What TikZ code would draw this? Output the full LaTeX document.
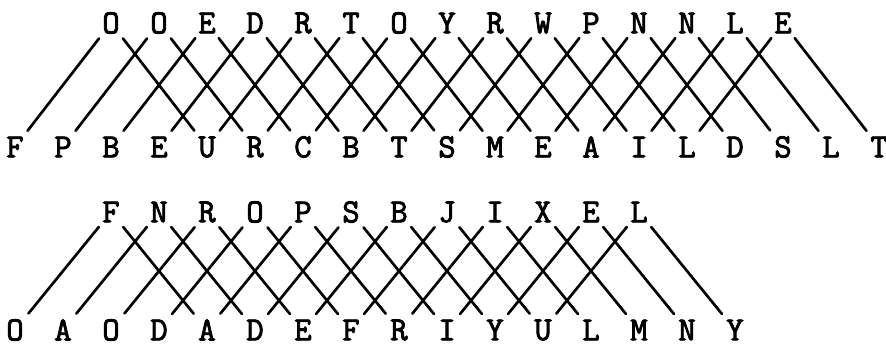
\documentclass[tikz,border=0pt]{standalone}
\usepackage{fontspec}
\setmonofont{Latin Modern Mono}[AutoFakeBold=2.5]
\usepackage{tikz}
\tikzset{
  letter/.style={font=\ttfamily\bfseries\fontsize{24}{28}\selectfont, inner sep=2pt},
  link/.style={line width=1.9pt, line cap=round, shorten <=1.5pt, shorten >=2.5pt}
}
\begin{document}
\begin{tikzpicture}[x=0.25mm,y=-0.25mm]
\useasboundingbox (0,0) rectangle (886,348);
% upper lattice
\foreach \ch [count=\i from 0] in {F,P,B,E,U,R,C,B,T,S,M,E,A,I,L,D,S,L,T}
  \node[letter] (ab\i) at ({15+48*\i},147) {\ch};
\foreach \ch [count=\i from 2] in {O,O,E,D,R,T,O,Y,R,W,P,N,N,L,E}
  \node[letter] (at\i) at ({15+48*\i},23) {\ch};
\foreach \i in {2,...,16} {
  \pgfmathtruncatemacro\lft{\i-2}
  \pgfmathtruncatemacro\rgt{\i+2}
  \draw[link] (at\i) -- (ab\lft);
  \draw[link] (at\i) -- (ab\rgt);
}
% lower lattice
\foreach \ch [count=\i from 0] in {O,A,O,D,A,D,E,F,R,I,Y,U,L,M,N,Y}
  \node[letter] (bb\i) at ({15+48*\i},330) {\ch};
\foreach \ch [count=\i from 2] in {F,N,R,O,P,S,B,J,I,X,E,L}
  \node[letter] (bt\i) at ({15+48*\i},212) {\ch};
\foreach \i in {2,...,13} {
  \pgfmathtruncatemacro\lft{\i-2}
  \pgfmathtruncatemacro\rgt{\i+2}
  \draw[link] (bt\i) -- (bb\lft);
  \draw[link] (bt\i) -- (bb\rgt);
}
\end{tikzpicture}
\end{document}
